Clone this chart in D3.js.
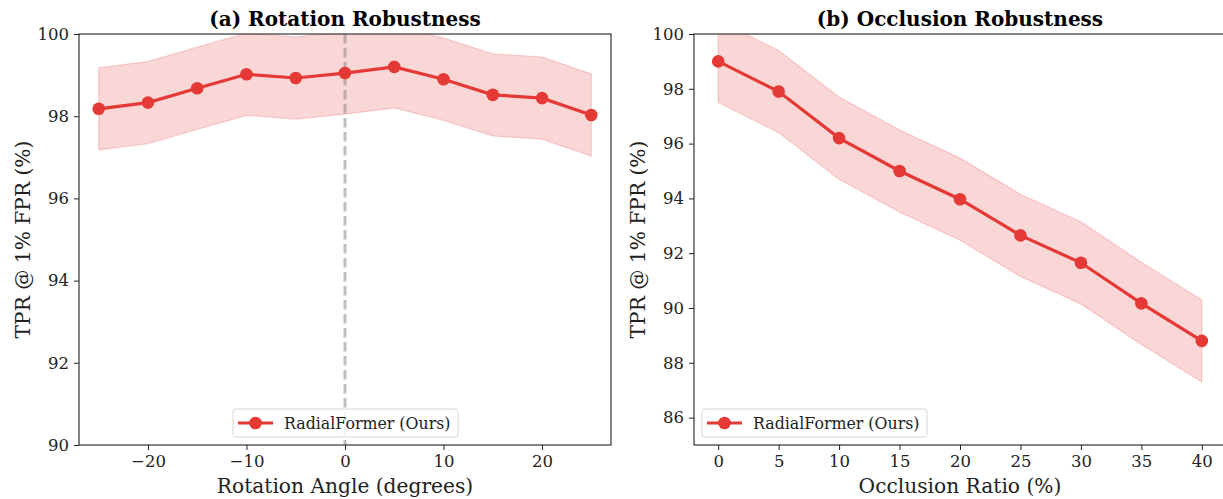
<!DOCTYPE html>
<html>
<head>
  <meta charset="utf-8">
  <title>Robustness</title>
  <style type="text/css">
body{
  margin: 0;
  background: #fff;
}
text{
  font-family: "DejaVu Serif", serif;
}
  </style>
</head>
<body>
<div id="chart"></div>
<script src="https://cdn.jsdelivr.net/npm/d3@7"></script>
<script type="text/javascript">
// (a) rotation
var rotAngles = [-25, -20, -15, -10, -5, 0, 5, 10, 15, 20, 25];
var rotTPR = [98.18, 98.33, 98.68, 99.02, 98.93, 99.05, 99.2, 98.9, 98.52, 98.44, 98.03];
var rotStd = [1, 1, 1, 1, 1, 1, 1, 1, 1, 1, 1];
var rotTicksX = [-20, -10, 0, 10, 20];
var rotTicksY = [90, 92, 94, 96, 98, 100];

// (b) occlusion
var occRatio = [0, 5, 10, 15, 20, 25, 30, 35, 40];
var occTPR = [99.0, 97.9, 96.2, 95.0, 93.97, 92.65, 91.65, 90.17, 88.8];
var occStd = [1.5, 1.5, 1.5, 1.5, 1.5, 1.5, 1.5, 1.5, 1.5];
var occTicksX = [0, 5, 10, 15, 20, 25, 30, 35, 40];
var occTicksY = [86, 88, 90, 92, 94, 96, 98, 100];

var seriesName = "RadialFormer (Ours)";
var red = "#e53935";

var svg = d3.select("#chart").append("svg")
  .attr("width", 1223)
  .attr("height", 499);

function fmt(v){
  return v < 0 ? "\u2212" + Math.abs(v) : String(v);
}

function panel(opt){
  var x = d3.scaleLinear().domain(opt.xdom).range([opt.left, opt.left + 532]);
  var y = d3.scaleLinear().domain(opt.ydom).range([445, 34]);
  var g = svg.append("g");

  var clipId = "clip" + opt.id;
  svg.append("clipPath").attr("id", clipId)
    .append("rect")
      .attr("x", opt.left).attr("y", 34)
      .attr("width", 532).attr("height", 411);

  var pts = opt.xs.map(function(d, i){ return {x: d, y: opt.ys[i], s: opt.sd[i]}; });

  // shaded band
  var area = d3.area()
    .x(function(d){ return x(d.x); })
    .y0(function(d){ return y(d.y - d.s); })
    .y1(function(d){ return y(d.y + d.s); });
  g.append("path")
    .datum(pts)
    .attr("clip-path", "url(#" + clipId + ")")
    .attr("d", area)
    .attr("fill", red)
    .attr("fill-opacity", 0.2)
    .attr("stroke", red)
    .attr("stroke-opacity", 0.2)
    .attr("stroke-width", 1.2);

  if (opt.vline !== undefined) {
    g.append("line")
      .attr("x1", x(opt.vline)).attr("x2", x(opt.vline))
      .attr("y1", 34).attr("y2", 445)
      .attr("stroke", "#808080")
      .attr("stroke-opacity", 0.5)
      .attr("stroke-width", 3)
      .attr("stroke-dasharray", "9.5,4.5");
  }

  var line = d3.line()
    .x(function(d){ return x(d.x); })
    .y(function(d){ return y(d.y); });
  g.append("path")
    .datum(pts)
    .attr("d", line)
    .attr("fill", "none")
    .attr("stroke", red)
    .attr("stroke-width", 3.2);

  g.selectAll("circle.pt")
    .data(pts)
    .enter()
    .append("circle")
      .attr("class", "pt")
      .attr("cx", function(d){ return x(d.x); })
      .attr("cy", function(d){ return y(d.y); })
      .attr("r", 6.3)
      .attr("fill", red);

  // axes
  var xAxis = g.append("g")
    .attr("transform", "translate(0,445)")
    .call(d3.axisBottom(x).tickValues(opt.xticks).tickFormat(fmt).tickSize(5).tickPadding(5));
  var yAxis = g.append("g")
    .attr("transform", "translate(" + opt.left + ",0)")
    .call(d3.axisLeft(y).tickValues(opt.yticks).tickFormat(fmt).tickSize(5).tickPadding(5));
  [xAxis, yAxis].forEach(function(a){
    a.select(".domain").remove();
    a.selectAll("line").attr("stroke", "#222").attr("stroke-width", 1);
    a.selectAll("text")
      .style("font-family", "DejaVu Serif, serif")
      .style("font-size", "16.5px")
      .attr("fill", "#222");
  });

  // frame
  g.append("rect")
    .attr("x", opt.left).attr("y", 34)
    .attr("width", 532).attr("height", 411)
    .attr("fill", "none")
    .attr("stroke", "#222")
    .attr("stroke-width", 1.1);

  // title and labels
  g.append("text")
    .attr("x", opt.left + 266)
    .attr("y", 26)
    .style("text-anchor", "middle")
    .style("font-size", "20px")
    .style("font-weight", "bold")
    .text(opt.title);
  g.append("text")
    .attr("x", opt.left + 266)
    .attr("y", 493)
    .style("text-anchor", "middle")
    .style("font-size", "20.2px")
    .attr("fill", "#222")
    .text(opt.xlabel);
  g.append("text")
    .attr("transform", "translate(" + (opt.left - 49) + ",239.5) rotate(-90)")
    .style("text-anchor", "middle")
    .style("font-size", "20.2px")
    .attr("fill", "#222")
    .text("TPR @ 1% FPR (%)");

  // legend
  var lg = g.append("g").attr("transform", "translate(" + opt.legendX + ",409)");
  lg.append("rect")
    .attr("width", 225).attr("height", 28)
    .attr("rx", 3)
    .attr("fill", "#fff").attr("fill-opacity", 0.8)
    .attr("stroke", "#d6d6d6");
  lg.append("line")
    .attr("x1", 5).attr("x2", 40)
    .attr("y1", 14).attr("y2", 14)
    .attr("stroke", red).attr("stroke-width", 3.2);
  lg.append("circle")
    .attr("cx", 22.5).attr("cy", 14).attr("r", 6.3)
    .attr("fill", red);
  lg.append("text")
    .attr("x", 51).attr("y", 20)
    .style("font-size", "15.8px")
    .attr("fill", "#222")
    .text(seriesName);
}

panel({
  id: "a", left: 79, xdom: [-27, 27], ydom: [90, 100],
  xs: rotAngles, ys: rotTPR, sd: rotStd,
  xticks: rotTicksX, yticks: rotTicksY, vline: 0,
  title: "(a) Rotation Robustness",
  xlabel: "Rotation Angle (degrees)",
  legendX: 233
});

panel({
  id: "b", left: 694, xdom: [-2, 42], ydom: [85, 100],
  xs: occRatio, ys: occTPR, sd: occStd,
  xticks: occTicksX, yticks: occTicksY,
  title: "(b) Occlusion Robustness",
  xlabel: "Occlusion Ratio (%)",
  legendX: 702
});
</script>
</body>
</html>
